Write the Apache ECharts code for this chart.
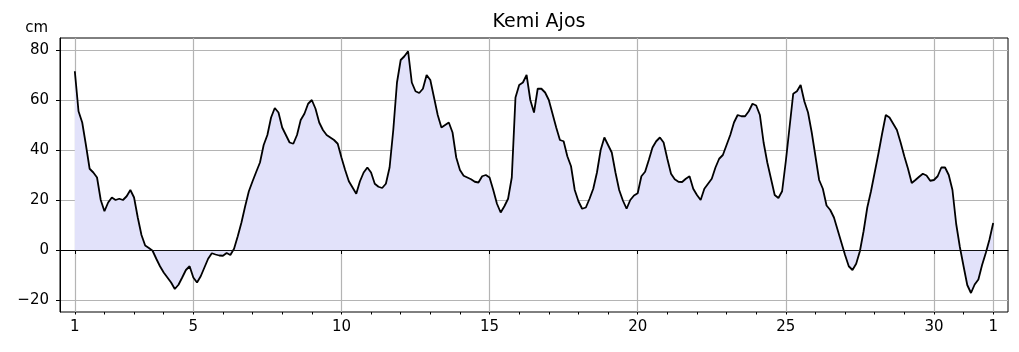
<!DOCTYPE html>
<html>
<head>
<meta charset="utf-8">
<title>Kemi Ajos</title>
<script src="https://cdn.jsdelivr.net/npm/echarts@6.0.0/dist/echarts.min.js"></script>
<style>
  html, body { margin: 0; padding: 0; background: #fff; }
  #chart { width: 1019px; height: 352px; }
</style>
</head>
<body>
<div id="chart"></div>
<script>
// Sea level (cm), every 3 hours from day 1 00:00 to day 1 of next month
const stepHours = 3;
const padHours = 12;
const seaLevel = [
  71.5, 55.5, 51, 42, 32.5, 31, 29, 20,            // 1
  15.5, 19, 21, 20, 20.5, 20, 21.5, 24,            // 2
  21, 13, 6, 1.8, 0.8, -0.3, -3.5, -6.5,           // 3
  -9, -11, -13, -15.6, -13.9, -11, -8, -6.5,       // 4
  -11, -13, -10.5, -7, -3.5, -1.3, -1.8, -2.2,     // 5
  -2.3, -1.2, -2, 0.5, 5.5, 11, 17.5, 23.5,        // 6
  27.5, 31.3, 35, 42, 46, 53, 56.8, 55,            // 7
  49, 46, 43, 42.5, 46, 52, 54.5, 58.5,            // 8
  60, 56.5, 51, 48, 46, 45, 44, 42.5,              // 9
  37, 32, 27.5, 25, 22.5, 27.5, 31, 33,            // 10
  31, 26.5, 25.3, 24.8, 26.5, 33, 48, 67,          // 11
  76, 77.5, 79.5, 67, 63.5, 62.8, 64.5, 70,        // 12
  68, 61, 54, 49, 50, 51, 47, 37,                  // 13
  32, 29.7, 29, 28.3, 27.3, 27, 29.5, 30,          // 14
  29, 24, 18.5, 15, 17.5, 20.5, 29, 61,            // 15
  66, 67, 70, 60, 55, 64.5, 64.5, 63,              // 16
  60, 54.5, 49, 44, 43.5, 37.5, 33.5, 24,          // 17
  19.5, 16.5, 17, 20.5, 24.5, 31, 40, 45,          // 18
  42, 39, 31, 24, 19.8, 16.5, 20, 21.8,            // 19
  22.7, 29.5, 31.3, 36, 41, 43.5, 45, 43,          // 20
  36.5, 30.5, 28.3, 27.3, 27.2, 28.5, 29.5, 24.5,  // 21
  22, 20, 24.5, 26.5, 28.5, 33, 36.5, 38,          // 22
  42, 46, 51, 54, 53.5, 53.5, 55.5, 58.5,          // 23
  57.8, 54, 43, 35, 28.5, 22, 20.8, 23.5,          // 24
  35.5, 49, 62.5, 63.5, 66, 59.5, 55, 47,          // 25
  37.5, 28, 24.5, 17.8, 16, 13, 8, 3,              // 26
  -2, -6.5, -8, -5.5, -0.5, 7.5, 17, 23.5,         // 27
  31, 38.5, 46.5, 54, 53, 50.5, 48, 43,            // 28
  37.5, 32.5, 26.8, 28, 29.3, 30.5, 29.8, 27.7,    // 29
  28, 29.5, 33, 33, 30, 24, 10.5, 1.2,             // 30
  -6.5, -14, -17.2, -13.8, -11.8, -6, -1.2, 4.2,   // 31
  10.8                                             // 1
];
const labelDays = [0, 4, 9, 14, 19, 24, 29, 31];  // days since start
const labelTexts = ['1', '5', '10', '15', '20', '25', '30', '1'];
const yTicks = [-20, 0, 20, 40, 60, 80];

// category axis in hours, padded half a day on each side
const padCount = padHours / stepHours;
const perDay = 24 / stepHours;
const hours = [];
const seriesData = [];
for (let i = 0; i < seaLevel.length + 2 * padCount; i++) {
  hours.push(String(i * stepHours - padHours));
  const k = i - padCount;
  seriesData.push(k >= 0 && k < seaLevel.length ? seaLevel[k] : null);
}
const dayIndex = d => d * perDay + padCount;
const labelIndex = {};
labelDays.forEach((d, i) => { labelIndex[dayIndex(d)] = labelTexts[i]; });
const isLabel = idx => labelIndex[idx] !== undefined;
const isDay = idx => (idx - padCount) % perDay === 0 && idx >= padCount && idx <= dayIndex(31);

const chart = echarts.init(document.getElementById('chart'));
const font = 'DejaVu Sans';
chart.setOption({
  animation: false,
  title: {
    text: 'Kemi Ajos',
    left: 534,
    top: 8,
    textAlign: 'center',
    textStyle: { fontFamily: font, fontSize: 19, fontWeight: 'normal', color: '#000' }
  },
  grid: {
    left: 60, right: 11, top: 38, bottom: 40,
    show: true, borderColor: '#000', borderWidth: 1, backgroundColor: 'transparent'
  },
  xAxis: [{
    type: 'category',
    data: hours,
    boundaryGap: false,
    axisLine: { show: true, lineStyle: { color: '#000', width: 1 } },
    axisTick: { show: true, interval: idx => isLabel(idx), length: 4, lineStyle: { color: '#000' } },
    axisLabel: {
      interval: idx => isLabel(idx),
      formatter: (v, idx) => labelIndex[idx] || '',
      margin: 8,
      fontFamily: font, fontSize: 15, color: '#000'
    },
    splitLine: { show: true, interval: idx => isLabel(idx), lineStyle: { color: '#b4b4b4', width: 1.2 } }
  }, {
    type: 'category',
    data: hours,
    boundaryGap: false,
    position: 'bottom',
    axisLine: { show: false },
    axisTick: { show: true, interval: idx => isDay(idx), length: 2.5, lineStyle: { color: '#000' } },
    axisLabel: { show: false },
    splitLine: { show: false }
  }],
  yAxis: {
    type: 'value',
    min: -24.8,
    max: 84.8,
    splitNumber: 5,
    name: 'cm',
    nameLocation: 'end',
    nameGap: 10,
    nameTextStyle: { fontFamily: font, fontSize: 15, color: '#000', align: 'right', verticalAlign: 'middle', padding: [0, 12, 0, 0] },
    axisLine: { show: true, lineStyle: { color: '#000', width: 1 } },
    axisTick: { show: true, length: 4, lineStyle: { color: '#000' }, customValues: yTicks },
    axisLabel: {
      margin: 11,
      customValues: yTicks,
      formatter: v => (v < 0 ? '\u2212' + Math.abs(v) : String(v)),
      fontFamily: font, fontSize: 15, color: '#000'
    },
    splitLine: { show: true, lineStyle: { color: '#b4b4b4', width: 1.2 } }
  },
  series: [{
    type: 'line',
    data: seriesData,
    xAxisIndex: 0,
    showSymbol: false,
    connectNulls: false,
    lineStyle: { color: '#000', width: 1.8 },
    areaStyle: { color: '#e2e2fa', opacity: 1, origin: 0 },
    markLine: {
      silent: true,
      symbol: 'none',
      label: { show: false },
      lineStyle: { color: '#111', width: 1, type: 'solid' },
      data: [[{ coord: [hours[dayIndex(0)], 0] }, { coord: [hours[dayIndex(31)], 0] }]]
    },
    z: 3
  }]
});
</script>
</body>
</html>
